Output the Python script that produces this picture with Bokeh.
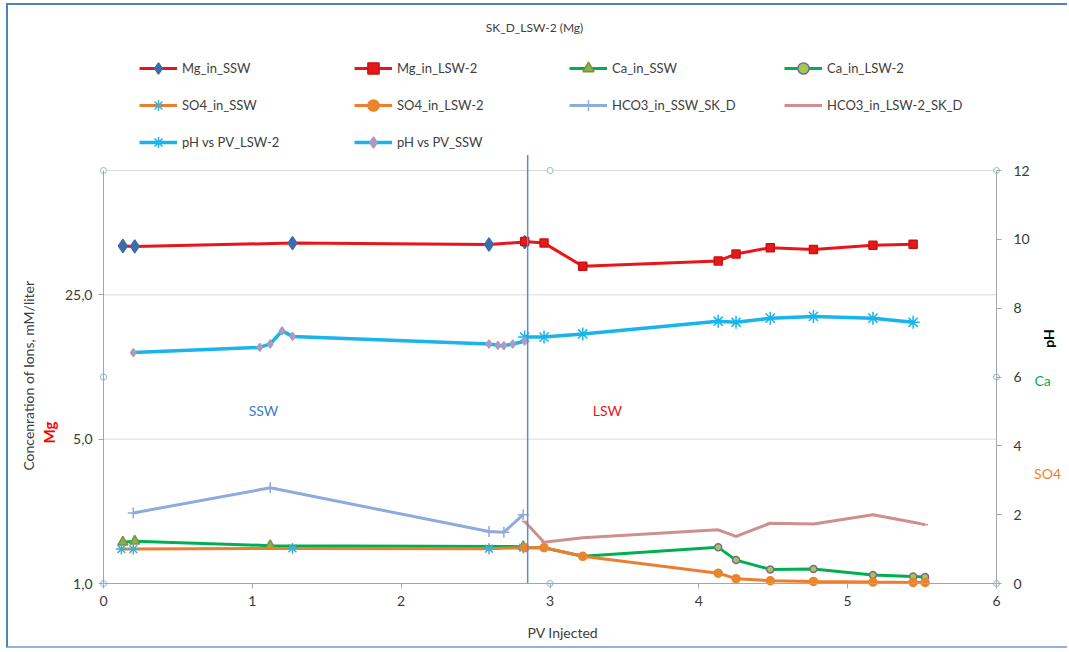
from math import pi, log10
from bokeh.plotting import figure
from bokeh.models import (Range1d, LinearAxis, LinearScale, FixedTicker, Legend, LegendItem, Label)
from bokeh.embed import file_html
from bokeh.resources import INLINE

# ---------------- data ----------------
x_lim = (0, 6)
x_ticks = [0, 1, 2, 3, 4, 5, 6]
conc_lim = (1, 100)            # left log axis, mM/liter
conc_ticks = [1, 5, 25]
conc_tick_labels = ["1,0", "5,0", "25,0"]
conc_grid = [5, 25, 100]
ph_lim = (0, 12)               # right axis
ph_ticks = [0, 2, 4, 6, 8, 10, 12]
switch_pv = [2.85]             # SSW -> LSW switch
switch_ph = (0, 12.45)

mg_ssw_pv = [0.13, 0.21, 1.27, 2.59, 2.83]
mg_ssw = [43.1, 42.9, 44.5, 43.8, 45.0]
mg_lsw_pv = [2.83, 2.96, 3.22, 4.13, 4.25, 4.48, 4.77, 5.17, 5.44]
mg_lsw = [45.3, 44.5, 34.4, 36.5, 39.4, 42.3, 41.4, 43.4, 43.9]

ca_ssw_pv = [0.13, 0.21, 1.12, 2.82]
ca_ssw = [1.20, 1.23, 1.10, 1.07]

lsw_pv = [2.83, 2.96, 3.22, 4.13, 4.25, 4.48, 4.77, 5.17, 5.44, 5.52]
ca_lsw = [1.04, 1.04, 0.79, 1.05, 0.68, 0.41, 0.42, 0.25, 0.20, 0.19]
so4_lsw = [1.04, 1.04, 0.79, 0.30, 0.14, 0.08, 0.06, 0.04, 0.03, 0.03]
hco3_lsw = [1.80, 1.20, 1.33, 1.56, 1.37, 1.75, 1.73, 2.00, 1.78, 1.71]

so4_ssw_pv = [0.12, 0.20, 1.27, 2.59, 2.82]
so4_ssw = [1.00, 1.00, 1.02, 1.01, 1.04]

hco3_ssw_pv = [0.20, 1.12, 2.59, 2.69, 2.82]
hco3_ssw = [2.05, 2.78, 1.51, 1.49, 2.00]

ph_ssw_pv = [0.20, 1.05, 1.12, 1.20, 1.27, 2.59, 2.65, 2.69, 2.75, 2.83]
ph_ssw = [6.71, 6.86, 6.96, 7.34, 7.18, 6.96, 6.92, 6.91, 6.96, 7.04]
ph_lsw_pv = [2.83, 2.96, 3.22, 4.13, 4.25, 4.48, 4.77, 5.17, 5.44]
ph_lsw = [7.16, 7.16, 7.25, 7.62, 7.59, 7.71, 7.76, 7.71, 7.59]

# ---------------- layout (pixels) ----------------
CX0, CY0 = 8, 5                 # canvas origin on the page
W, H = 1061, 645                # canvas size
PL, PR, PT, PB = 103, 996, 170, 583   # plot area on the page

sx = (PR - PL) / (x_lim[1] - x_lim[0])
xr = Range1d(x_lim[0] - (PL - CX0) / sx, x_lim[1] + (CX0 + W - PR) / sx)
dec = (PB - PT) / (log10(conc_lim[1]) - log10(conc_lim[0]))
yr = Range1d(10 ** (log10(conc_lim[0]) - (CY0 + H - PB) / dec),
             10 ** (log10(conc_lim[1]) + (PT - CY0) / dec))
sp = (PB - PT) / (ph_lim[1] - ph_lim[0])
phr = Range1d(ph_lim[0] - (CY0 + H - PB) / sp, ph_lim[1] + (PT - CY0) / sp)

FONT = "Lato"
TXT = "#404040"

p = figure(width=W, height=H, x_range=xr, y_range=yr, y_axis_type="log",
           output_backend="svg", toolbar_location=None, title=None,
           min_border=0, background_fill_color="white", border_fill_color="white",
           outline_line_color=None,
           styles={"margin-left": "6px", "margin-top": "3px",
                   "border-left": "2px solid #4f81bd", "border-top": "2px solid #4f81bd",
                   "border-bottom": "2px solid #95b3d7"})
p.extra_y_ranges = {"ph": phr}
p.extra_y_scales = {"ph": LinearScale()}
p.xgrid.visible = False
p.ygrid.visible = False

# axes, drawn on the plot-area edges
xa = p.xaxis[0]
xa.fixed_location = conc_lim[0]
xa.bounds = x_lim
xa.ticker = FixedTicker(ticks=x_ticks)
ya = p.yaxis[0]
ya.fixed_location = x_lim[0]
ya.bounds = conc_lim
ya.ticker = FixedTicker(ticks=conc_ticks)
ya.major_label_overrides = dict(zip(conc_ticks, conc_tick_labels))
right = LinearAxis(y_range_name="ph", ticker=FixedTicker(ticks=ph_ticks),
                   fixed_location=x_lim[1], bounds=ph_lim)
p.add_layout(right, "right")
for ax in [xa, ya, right]:
    ax.axis_line_color = "#a6a6a6"
    ax.major_tick_line_color = "#a6a6a6"
    ax.major_tick_out = 5
    ax.major_tick_in = 0
    ax.minor_tick_line_color = None
    ax.major_label_text_font = FONT
    ax.major_label_text_font_size = "14px"
    ax.major_label_text_color = "#3a3a3a"
xa.major_label_standoff = 7
ya.major_label_standoff = 6
right.major_label_standoff = 12

# horizontal gridlines of the left axis
p.segment(x0=[x_lim[0]] * len(conc_grid), x1=[x_lim[1]] * len(conc_grid),
          y0=conc_grid, y1=conc_grid, line_color="#d9d9d9", line_width=1)

# series
RED = "#e8161b"
GREEN = "#00b050"
ORANGE = "#ee7d2f"
HBLUE = "#8faadc"
PINK = "#cf8f8d"
PHB = "#19b4ec"

items = []

def series(x, y, label, color, marker, msize, mfill, mline, lw=3, rng=None):
    kw = {} if rng is None else {"y_range_name": rng}
    l = p.line(x, y, line_color=color, line_width=lw, **kw)
    rs = [l]
    if marker is not None:
        s = p.scatter(x, y, marker=marker, size=msize, fill_color=mfill, line_color=mline,
                      line_width=1.5, **kw)
        rs.append(s)
    items.append(LegendItem(label=label, renderers=rs))

series(mg_ssw_pv, mg_ssw, "Mg_in_SSW", RED, "diamond", 13, "#3e6ca8", "#3e6ca8")
series(mg_lsw_pv, mg_lsw, "Mg_in_LSW-2", RED, "square", 8, "#e31a1c", "#d01010")
series(ca_ssw_pv, ca_ssw, "Ca_in_SSW", GREEN, "triangle", 10, "#8fae4e", "#77933c", rng="ph")
series(lsw_pv, ca_lsw, "Ca_in_LSW-2", GREEN, "circle", 7, "#a3c94f", "#8064a2", rng="ph")
series(so4_ssw_pv, so4_ssw, "SO4_in_SSW", ORANGE, "asterisk", 11, "#4bacc6", "#4bacc6", rng="ph")
series(lsw_pv, so4_lsw, "SO4_in_LSW-2", ORANGE, "circle", 8, "#e8862e", "#e8862e", rng="ph")
series(hco3_ssw_pv, hco3_ssw, "HCO3_in_SSW_SK_D", HBLUE, "cross", 11, HBLUE, HBLUE, rng="ph")
series(lsw_pv, hco3_lsw, "HCO3_in_LSW-2_SK_D", PINK, "dash", 6, PINK, PINK, rng="ph")
series(ph_lsw_pv, ph_lsw, "pH vs PV_LSW-2", PHB, "asterisk", 13, PHB, PHB, lw=3.5, rng="ph")
series(ph_ssw_pv, ph_ssw, "pH vs PV_SSW", PHB, "diamond", 8, "#a99cc0", "#a99cc0", lw=3.5, rng="ph")

# switch line
p.segment(x0=switch_pv, x1=switch_pv, y0=[switch_ph[0]], y1=[switch_ph[1]], y_range_name="ph",
          line_color="#5b8bd0", line_width=1.5)

# selection handles at plot-area corners / midpoints
x0, x1 = x_lim
y0, y1 = ph_lim
xm, ym = (x0 + x1) / 2, (y0 + y1) / 2
p.scatter([x0, x0, x0, xm, xm, x1, x1, x1], [y0, ym, y1, y1, y0, y1, ym, y0], y_range_name="ph",
          marker="circle", size=6, fill_color="white", line_color="#8eb4d8", line_width=1)

legend = Legend(items=items, location=(131, 494), orientation="horizontal", ncols=4,
                glyph_width=38, glyph_height=28, label_height=28, label_width=163,
                label_standoff=5, spacing=9, padding=10, margin=0, border_line_color=None,
                background_fill_alpha=0, label_text_font=FONT, label_text_font_size="13px",
                label_text_color=TXT)
p.add_layout(legend)

def lab(x, y, text, color=TXT, size="14px", bold=False, angle=0.0, align="center"):
    p.add_layout(Label(x=x, y=y, y_range_name="ph", text=text, text_color=color,
                       text_font=FONT, text_font_size=size,
                       text_font_style="bold" if bold else "normal", angle=angle,
                       text_align=align, text_baseline="middle"))

lab(2.896, 16.15, "SK_D_LSW-2 (Mg)", size="12px")
lab(-0.504, 3.28, "Concenration of Ions,   mM/liter", angle=pi / 2, align="left")
lab(-0.363, 4.07, "Mg", color="#ff0000", size="15px", bold=True, angle=pi / 2, align="left")
lab(6.35, 7.12, "pH", color="#000000", size="14px", bold=True, angle=pi / 2)
lab(6.31, 5.90, "Ca", color=GREEN)
lab(6.343, 3.20, "SO4", color=ORANGE)
lab(1.075, 5.03, "SSW", color="#3d7cc9")
lab(3.386, 5.03, "LSW", color="#e8161b")
lab(3.098, -1.42, "PV  Injected")

open("out.html", "w").write(file_html(p, INLINE))
